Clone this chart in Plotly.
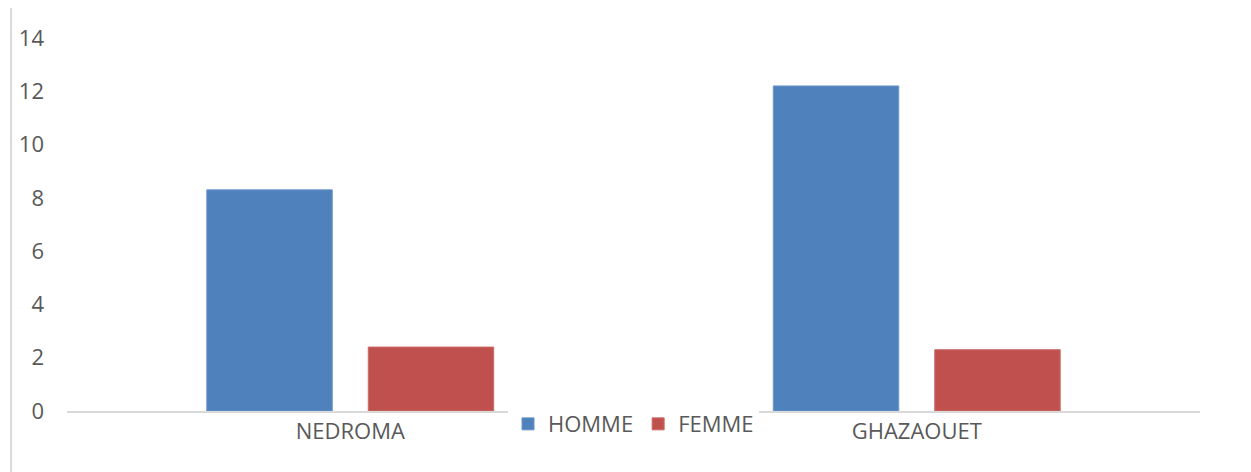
from plotly import graph_objects as go

villes = ["NEDROMA", "GHAZAOUET"]
homme = [8.3, 12.2]
femme = [2.4, 2.3]
y_ticks = [0, 2, 4, 6, 8, 10, 12, 14]

gris_texte = "#595959"
gris_ligne = "#d9d9d9"

fig = go.Figure()

fig.add_trace(
    go.Bar(
        x=villes,
        y=homme,
        name="HOMME",
        marker={"color": "#4F81BD", "line": {"color": "#6a95c8", "width": 1}},
    )
)

fig.add_trace(
    go.Bar(
        x=villes,
        y=femme,
        name="FEMME",
        marker={"color": "#C0504D", "line": {"color": "#cc6a67", "width": 1}},
    )
)

fig.update_layout(
    width=1251,
    height=472,
    paper_bgcolor="white",
    plot_bgcolor="white",
    # la page html a une marge de 8px autour du graphique
    margin={"t": 30, "b": 69, "l": 59, "r": 59},
    barmode="group",
    bargap=0.43,
    bargroupgap=0.223,
    font={"family": "Open Sans", "size": 22, "color": gris_texte},
    showlegend=True,
    legend={
        "orientation": "h",
        "x": 0.5,
        "xanchor": "center",
        "y": -0.035,
        "yanchor": "middle",
        "font": {"size": 22, "color": gris_texte},
        "itemwidth": 30,
        "tracegroupgap": 0,
    },
    xaxis={
        "showline": True,
        "linecolor": gris_ligne,
        "linewidth": 2,
        "showgrid": False,
        "ticks": "",
        "zeroline": False,
    },
    yaxis={
        "range": [0, 14],
        "tickvals": y_ticks,
        "showgrid": False,
        "showline": False,
        "zeroline": False,
        "ticks": "",
        "ticklabelstandoff": 22,
    },
    shapes=[
        {
            "type": "line",
            "xref": "paper",
            "yref": "paper",
            "x0": -0.0494,
            "x1": -0.0494,
            "y0": -0.2,
            "y1": 1.083,
            "line": {"color": gris_ligne, "width": 2},
        },
        {
            "type": "line",
            "xref": "paper",
            "yref": "paper",
            "x0": 1.0406,
            "x1": 1.0406,
            "y0": -0.2,
            "y1": 1.083,
            "line": {"color": gris_ligne, "width": 2},
        },
    ],
)

fig.write_html("out.html")
